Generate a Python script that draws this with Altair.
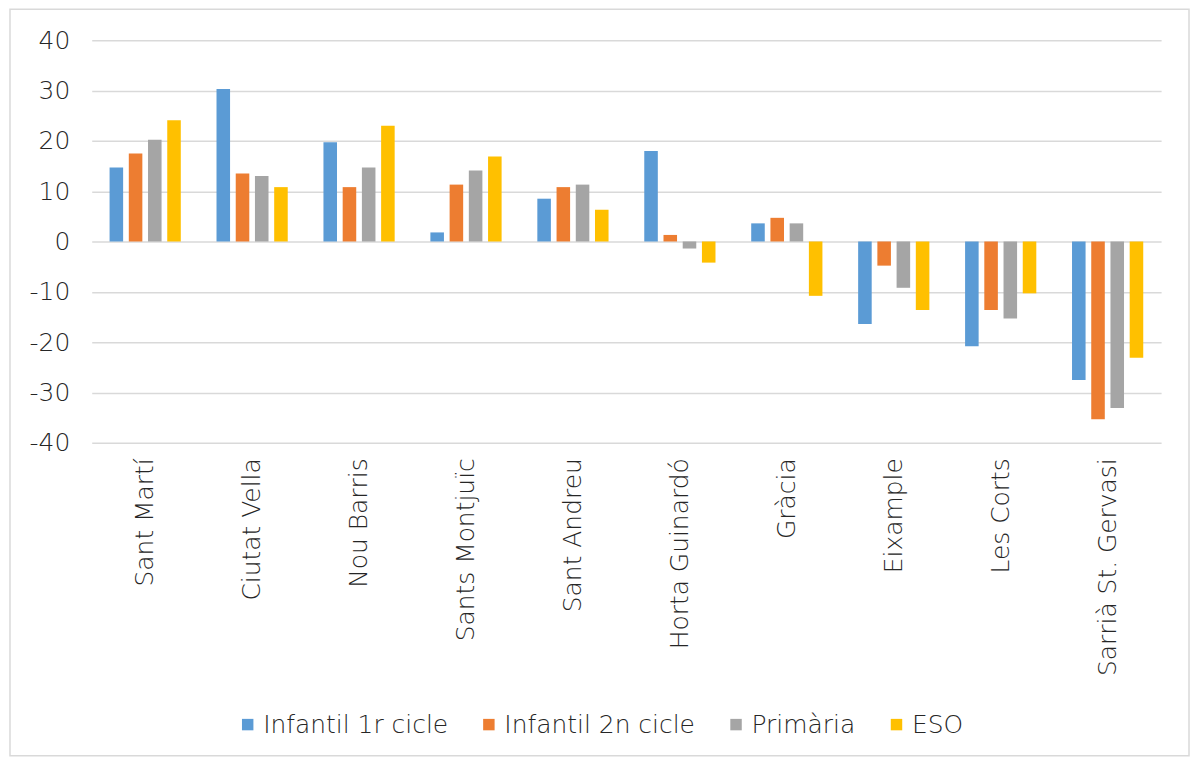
import altair as alt
import pandas as pd

districts = ["Sant Martí", "Ciutat Vella", "Nou Barris", "Sants Montjuïc", "Sant Andreu",
             "Horta Guinardó", "Gràcia", "Eixample", "Les Corts", "Sarrià St. Gervasi"]
series = ["Infantil 1r cicle", "Infantil 2n cicle", "Primària", "ESO"]
colors = ["#5B9BD5", "#ED7D31", "#A5A5A5", "#FFC000"]

infantil_1r = [14.7, 30.3, 19.7, 1.8, 8.5, 18.0, 3.6, -16.4, -20.8, -27.5]
infantil_2n = [17.5, 13.5, 10.8, 11.3, 10.8, 1.3, 4.7, -4.8, -13.6, -35.3]
primaria = [20.2, 13.0, 14.7, 14.1, 11.3, -1.4, 3.6, -9.2, -15.3, -33.1]
eso = [24.1, 10.8, 23.0, 16.9, 6.3, -4.2, -10.8, -13.6, -10.3, -23.1]
y_ticks = [-40, -30, -20, -10, 0, 10, 20, 30, 40]

rows = []
for s, vals in zip(series, [infantil_1r, infantil_2n, primaria, eso]):
    for d, v in zip(districts, vals):
        rows.append({"district": d, "serie": s, "value": v})
df = pd.DataFrame(rows)

FONT = "DejaVu Sans"
TXT = "#262626"
WEIGHT = 300

bars = alt.Chart(df).mark_bar().encode(
    x=alt.X("district:N", sort=districts, title=None,
            scale=alt.Scale(paddingInner=0.334, paddingOuter=0.167),
            axis=alt.Axis(labelAngle=-90, labelAlign="right", labelBaseline="middle",
                          ticks=False, domain=False, grid=False, labelPadding=15,
                          labelFontSize=25, labelFont=FONT, labelColor=TXT,
                          labelFontWeight=WEIGHT, labelLimit=0)),
    xOffset=alt.XOffset("serie:N", sort=series,
                        scale=alt.Scale(paddingInner=0.295, paddingOuter=0)),
    y=alt.Y("value:Q", title=None,
            scale=alt.Scale(domain=[-40, 40], nice=False),
            axis=alt.Axis(values=y_ticks, ticks=False, domain=False, labelPadding=22,
                          labelExpr="toString(datum.value)",
                          labelFontSize=25, labelFont=FONT, labelColor=TXT,
                          labelFontWeight=WEIGHT,
                          gridColor="#d9d9d9", gridWidth=1.5)),
    color=alt.Color("serie:N", sort=series,
                    scale=alt.Scale(domain=series, range=colors),
                    legend=alt.Legend(title=None, orient="none", direction="horizontal",
                                      legendX=144, legendY=674, symbolType="square",
                                      symbolSize=132, symbolStrokeWidth=0,
                                      labelFontSize=25, labelFont=FONT, labelColor=TXT,
                                      labelFontWeight=WEIGHT, labelLimit=0,
                                      labelOffset=3, columnPadding=28, padding=0)),
)

frame = alt.Chart(alt.Data(values=[{"k": 1}])).mark_rect(
    fillOpacity=0, stroke="#d9d9d9", strokeWidth=1.5
).encode(
    x=alt.value(-82), x2=alt.value(1101), y=alt.value(-31), y2=alt.value(718)
)

chart = alt.layer(bars, frame).properties(
    width=1073, height=404,
    autosize=alt.AutoSizeParams(type="none"),
    padding={"left": 84, "top": 31, "right": 30, "bottom": 316},
    background="white",
).configure_view(stroke=None)

chart.save("out.html", embed_options={"renderer": "svg", "actions": False})
